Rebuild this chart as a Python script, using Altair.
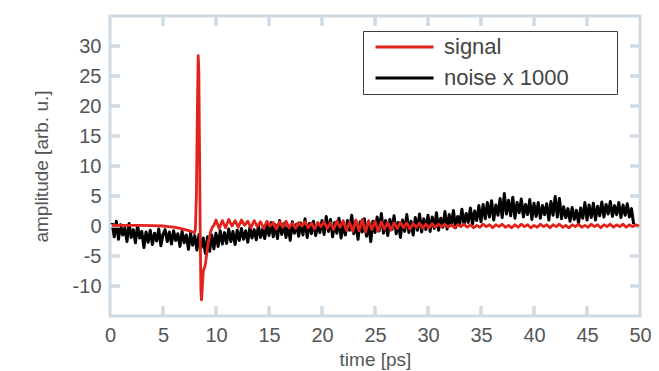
import altair as alt
import pandas as pd

# ---------------- data ----------------
series_names = ["signal", "noise x 1000"]
series_colors = ["#e3231b", "#000000"]
x_ticks = [0, 5, 10, 15, 20, 25, 30, 35, 40, 45, 50]
y_ticks = [-10, -5, 0, 5, 10, 15, 20, 25, 30]

# noise x 1000, sampled every 0.2 ps starting at 0.2 ps
noise_t0 = 0.2
noise_dt = 0.2
noise_v = [
    0.5, -1.8, 0.8, -2.2, 0.2, -1.5, -0.3, -2.6, 0.4, -1.9, -0.6, -2.8, 0.1, -2.0, -0.9, -3.6, -1.0, -2.7, -0.7, -3.1, -1.2, -2.5, -0.5, -3.3, -1.4,
    -0.6, -2.6, -1.0, -3.0, -0.8, -2.4, -1.3, -3.4, -0.9, -2.8, -1.5, -3.9, -1.2, -3.2, -1.6, -4.0, -1.4, -3.6, -2.0, -4.6, -1.8, -4.2, -1.5, -3.8, -1.2,
    -3.4, -0.8, -3.0, -1.1, -2.9, -0.5, -2.6, -0.9, -3.1, -0.7, -2.4, -0.4, -2.2, -0.8, -2.7, -0.2, -2.0, -0.6, -2.3, 0.1, -1.9, -0.5, -2.1, 0.3, -1.6,
    0.6, -1.8, 0.2, -2.1, 0.9, -1.4, 0.4, -1.9, 0.1, -2.4, 0.7, -1.2, 0.3, -1.7, 0.5, -1.5, 1.2, -1.9, 0.4, -1.3, 0.8, -1.6, 0.2, -1.1, 0.9,
    -1.4, 1.6, -0.9, 1.1, -1.8, 0.6, -1.2, 1.3, -2.0, 0.4, -1.5, 0.9, -0.7, 1.8, -1.3, 0.5, -2.2, 0.7, -1.0, 1.2, -1.7, 0.3, -2.6, 0.8, -1.1,
    1.5, -0.8, 2.1, -1.2, 0.9, -1.6, 1.1, -0.6, 1.7, -1.3, 0.6, -1.9, 1.0, -0.9, 1.9, -1.1, 0.8, -1.5, 1.4, -0.7, 2.0, -1.0, 1.2, -0.6, 1.8,
    -0.9, 1.5, -0.4, 2.2, -0.7, 1.3, -0.2, 2.4, -0.5, 1.9, 0.1, 2.6, -0.3, 1.6, 0.4, 2.8, 0.2, 2.1, 0.6, 3.0, 0.3, 2.5, 0.9, 3.4, 0.7,
    3.6, 1.2, 3.9, 1.5, 4.2, 1.0, 3.5, 1.8, 4.6, 1.4, 5.4, 2.0, 4.3, 1.7, 4.8, 1.3, 3.9, 2.2, 4.5, 1.5, 3.6, 1.9, 4.4, 1.1, 3.8,
    1.6, 3.9, 1.3, 3.4, 1.9, 3.7, 1.0, 4.1, 1.8, 4.9, 1.5, 4.6, 1.2, 3.2, 1.4, 2.9, 0.8, 3.1, 1.1, 2.6, 0.5, 3.0, 1.3, 3.9, 1.0,
    3.5, 1.4, 3.8, 1.0, 3.3, 1.7, 4.0, 1.5, 3.6, 2.0, 4.1, 1.6, 3.4, 1.9, 3.9, 1.4, 3.5, 1.8, 3.7, 1.5, 2.9, 0.3,
]

# signal: baseline and pulse (irregular sampling)
sig_pulse_t = [0.2, 1.0, 2.0, 3.0, 4.0, 5.0, 5.5, 6.0, 6.5, 7.0, 7.5, 7.8, 7.95, 8.05, 8.15, 8.25, 8.32, 8.38,
               8.45, 8.52, 8.58, 8.63, 8.7, 8.8, 8.9, 9.0, 9.1, 9.2, 9.33, 9.5, 9.65, 9.8, 10.0]
sig_pulse_v = [0.1, 0.1, 0.1, 0.1, 0.05, 0.0, -0.1, -0.2, -0.35, -0.55, -0.8, -1.0, -1.1, -0.7, 5.0, 20.0, 28.4, 26.0,
               12.0, -3.0, -11.0, -12.3, -10.5, -7.5, -7.0, -6.4, -5.0, -3.6, -2.2, -0.9, -0.2, 0.1, 1.0]

# signal: ringing after the pulse, sampled every 0.3 ps starting at 10.3 ps
sig_osc_t0 = 10.3
sig_osc_dt = 0.3
sig_osc_v = [
    -0.4, 0.9, -0.3, 1.1, 0.0, 0.9, -0.2, 1.0, 0.1, 0.8, -0.3, 0.9, -0.1, 0.7, -0.4, 0.8, 0.0, 0.6, -0.5, 0.7,
    -0.2, 0.8, -0.3, 0.5, -0.4, 0.6, 0.0, 0.7, -0.3, 0.5, -0.5, 0.6, -0.1, 0.7, -0.4, 0.5, -0.6, 0.8, -0.2, 0.9,
    -0.7, 0.6, -0.9, 1.0, -0.8, 1.1, -1.0, 0.9, -0.6, 0.8, -0.9, 0.7, -0.5, 0.6, -0.7, 0.5, -0.4, 0.6, -0.3, 0.5,
    -0.5, 0.4, -0.2, 0.5, -0.4, 0.3, -0.3, 0.4, -0.2, 0.3, -0.1, 0.3, -0.2, 0.2, -0.3, 0.2, -0.1, 0.3, -0.2, 0.2,
    -0.3, 0.1, -0.2, 0.3, -0.1, 0.2, -0.3, 0.2, -0.1, 0.3, -0.2, 0.1, -0.3, 0.2, -0.2, 0.3, -0.1, 0.2, -0.3, 0.1,
    -0.2, 0.3, -0.1, 0.2, -0.3, 0.2, -0.1, 0.3, -0.2, 0.1, -0.3, 0.2, -0.1, 0.3, -0.2, 0.1, -0.2, 0.3, -0.1, 0.2,
    -0.3, 0.2, -0.1, 0.3, -0.2, 0.2, -0.1, 0.3, -0.2, 0.2, -0.1, 0.2, 0.0,
]

# ---------------- tables ----------------
noise_t = [round(noise_t0 + i * noise_dt, 2) for i in range(len(noise_v))]
osc_t = [round(sig_osc_t0 + i * sig_osc_dt, 2) for i in range(len(sig_osc_v))]

df_noise = pd.DataFrame({"t": noise_t, "v": noise_v, "series": series_names[1]})
df_sig = pd.DataFrame({"t": sig_pulse_t + osc_t, "v": sig_pulse_v + sig_osc_v, "series": series_names[0]})
df_xt = pd.DataFrame({"tick": x_ticks[1:-1]})
df_yt = pd.DataFrame({"tick": y_ticks})

# ---------------- styling ----------------
W, H = 530, 300
FRAME = "#cfdae3"
GRAY = "#555555"
FONT = "Liberation Sans"
TICK = 10
TW = 3.5

xs = alt.Scale(domain=[0, 50], nice=False, zero=False)
ys = alt.Scale(domain=[-15, 35], nice=False, zero=False)
cs = alt.Scale(domain=series_names, range=series_colors)

PAD = "\u00a0" * 7 + "\u200b"
legend = alt.Legend(
    title=None, orient="none", legendX=253, legendY=15,
    fillColor="white", strokeColor="#3c3c3c",
    padding=5, rowPadding=9, clipHeight=22,
    symbolType="stroke", symbolSize=3364, symbolStrokeWidth=3,
    symbolOffset=6, labelOffset=9, labelLimit=400,
    labelFontSize=22, labelColor="#444444", labelFont=FONT,
    labelExpr="datum.label + '" + PAD + "'",
)

bottom_axis = alt.Axis(
    values=x_ticks, ticks=False, domain=False, grid=False,
    labelFontSize=20, labelColor=GRAY, labelPadding=9,
    labelOverlap=False, labelFlush=False, labelExpr="datum.value + ''",
    titleFontSize=19, titleFontWeight="normal", titleColor=GRAY, titlePadding=5,
)
left_axis = alt.Axis(
    values=y_ticks, ticks=False, domain=False, grid=False,
    labelFontSize=20, labelColor=GRAY, labelPadding=9,
    labelOverlap=False, labelFlush=False, labelExpr="datum.value + ''",
    titleFontSize=19, titleFontWeight="normal", titleColor=GRAY, titlePadding=21,
)

# inward tick marks on all four sides, positioned by the shared scales
ticks_bottom = alt.Chart(df_xt).mark_rule(stroke=FRAME, strokeWidth=TW, opacity=1).encode(
    x=alt.X("tick:Q", scale=xs, axis=None), y=alt.value(H - TICK), y2=alt.value(H))
ticks_top = alt.Chart(df_xt).mark_rule(stroke=FRAME, strokeWidth=TW, opacity=1).encode(
    x=alt.X("tick:Q", scale=xs, axis=None), y=alt.value(0), y2=alt.value(TICK))
ticks_left = alt.Chart(df_yt).mark_rule(stroke=FRAME, strokeWidth=TW, opacity=1).encode(
    y=alt.Y("tick:Q", scale=ys, axis=None), x=alt.value(0), x2=alt.value(TICK))
ticks_right = alt.Chart(df_yt).mark_rule(stroke=FRAME, strokeWidth=TW, opacity=1).encode(
    y=alt.Y("tick:Q", scale=ys, axis=None), x=alt.value(W - TICK), x2=alt.value(W))

noise_line = alt.Chart(df_noise).mark_line(strokeWidth=3, strokeJoin="round").encode(
    x=alt.X("t:Q", scale=xs, axis=bottom_axis, title="time [ps]"),
    y=alt.Y("v:Q", scale=ys, axis=left_axis, title="amplitude [arb. u.]"),
    color=alt.Color("series:N", scale=cs, legend=legend),
)
signal_line = alt.Chart(df_sig).mark_line(strokeWidth=2.8, strokeJoin="round").encode(
    x=alt.X("t:Q", scale=xs, axis=None),
    y=alt.Y("v:Q", scale=ys, axis=None),
    color=alt.Color("series:N", scale=cs, legend=legend),
)

chart = (
    alt.layer(noise_line, ticks_bottom, ticks_top, ticks_left, ticks_right, signal_line)
    .resolve_axis(x="independent", y="independent")
    .properties(
        width=W, height=H,
        autosize=alt.AutoSizeParams(type="none"),
        padding={"left": 102, "top": 8, "right": 11, "bottom": 54},
    )
    .configure(font=FONT)
    .configure_view(stroke=FRAME, strokeWidth=3)
)

chart.save("out.html", embed_options={"renderer": "svg", "actions": False})
